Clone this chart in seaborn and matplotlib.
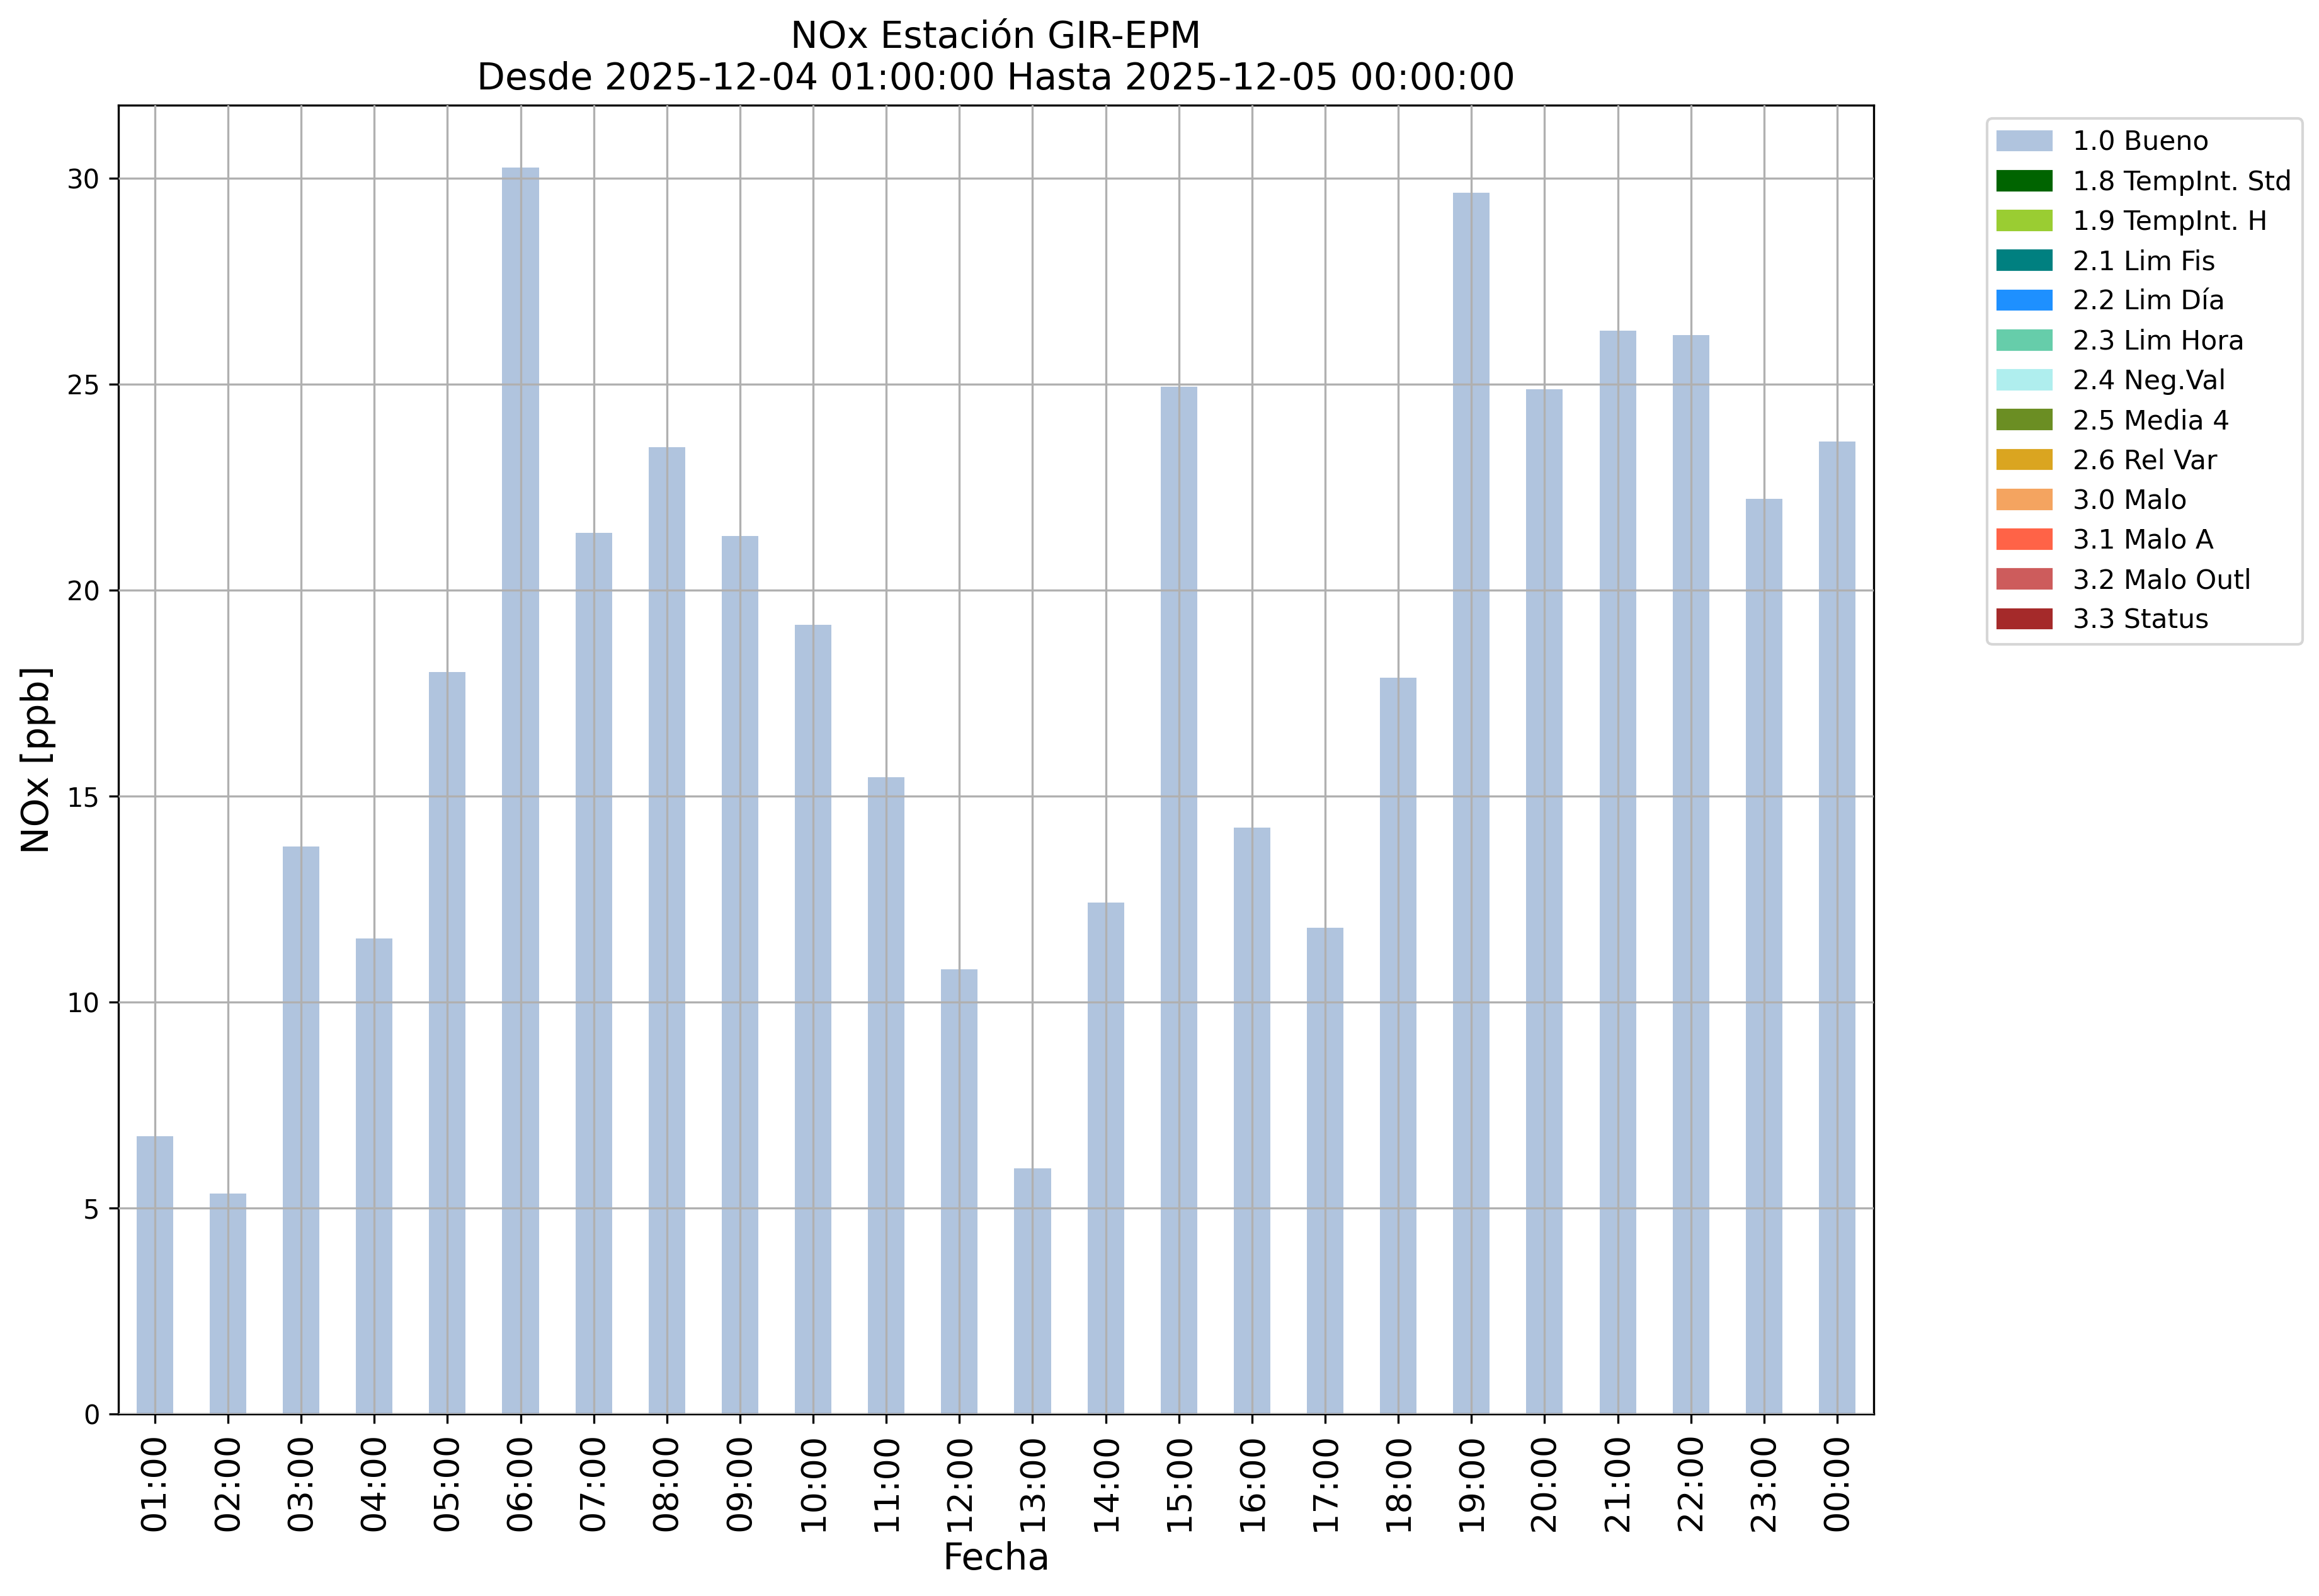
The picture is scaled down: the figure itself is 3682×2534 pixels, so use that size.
import numpy as np
import pandas as pd
import matplotlib
matplotlib.use("Agg")
import matplotlib.pyplot as plt
import matplotlib.patches as mpatches
import seaborn as sns

# --- data ---
horas = ['01:00','02:00','03:00','04:00','05:00','06:00','07:00','08:00',
         '09:00','10:00','11:00','12:00','13:00','14:00','15:00','16:00',
         '17:00','18:00','19:00','20:00','21:00','22:00','23:00','00:00']
nox = [6.75, 5.35, 13.78, 11.55, 18.01, 30.25, 21.39, 23.47,
       21.31, 19.16, 15.46, 10.80, 5.96, 12.41, 24.94, 14.24,
       11.80, 17.87, 29.64, 24.87, 26.30, 26.19, 22.21, 23.61]

flag_labels = ['1.0 Bueno','1.8 TempInt. Std','1.9 TempInt. H','2.1 Lim Fis',
               '2.2 Lim Día','2.3 Lim Hora','2.4 Neg.Val','2.5 Media 4',
               '2.6 Rel Var','3.0 Malo','3.1 Malo A','3.2 Malo Outl','3.3 Status']
flag_colors = ['lightsteelblue','darkgreen','yellowgreen','teal',
               'dodgerblue','mediumaquamarine','paleturquoise','olivedrab',
               'goldenrod','sandybrown','tomato','indianred','brown']

df = pd.DataFrame({"Fecha": horas, "NOx": nox})

fig, ax = plt.subplots(figsize=(3682/300, 2534/300), dpi=300)
fig.subplots_adjust(left=0.051, right=0.808, top=0.934, bottom=0.114)

sns.barplot(data=df, x="Fecha", y="NOx", color=flag_colors[0], saturation=1,
            width=0.5, order=horas, ax=ax)

ax.set_axisbelow(False)
ax.grid(True, color="#b0b0b0", lw=0.8)
ax.set_xlim(-0.5, len(horas) - 0.5)
ax.set_ylim(0, max(nox) * 1.05)

ax.set_title("NOx Estación GIR-EPM\nDesde 2025-12-04 01:00:00 Hasta 2025-12-05 00:00:00",
             fontsize=14)
ax.set_xlabel("Fecha", fontsize=14)
ax.set_ylabel("NOx [ppb]", fontsize=14)
ax.tick_params(axis="x", labelsize=13, labelrotation=90)
ax.tick_params(axis="y", labelsize=10)

handles = [mpatches.Patch(color=c, label=l) for c, l in zip(flag_colors, flag_labels)]
ax.legend(handles=handles, bbox_to_anchor=(1.057, 1), loc="upper left", fontsize=10.2)

plt.savefig("out.png", dpi=300)
plt.close()
